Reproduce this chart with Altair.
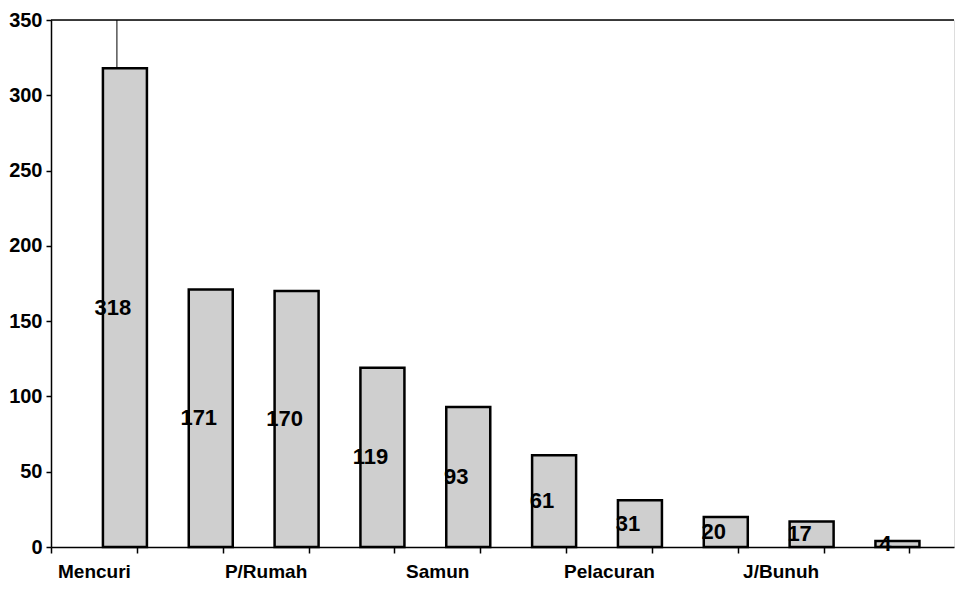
import json
import altair as alt
import pandas as pd

values = [318, 171, 170, 119, 93, 61, 31, 20, 17, 4]
idx = list(range(10))
tick_labels = ["Mencuri", "", "P/Rumah", "", "Samun", "", "Pelacuran", "", "J/Bunuh", ""]
y_ticks = [0, 50, 100, 150, 200, 250, 300, 350]

df = pd.DataFrame({"idx": idx, "value": values})

W = 903
H = 527
FONT = "Liberation Sans"

xenc = alt.X(
    "idx:O",
    scale=alt.Scale(paddingInner=0, paddingOuter=0.26, align=0),
    axis=alt.Axis(
        title=None,
        labelAngle=0,
        tickBand="extent",
        labelExpr=f"{json.dumps(tick_labels)}[datum.value]",
        labelFont=FONT,
        labelFontSize=19,
        labelFontWeight="bold",
        labelColor="black",
        labelPadding=9,
        tickSize=6,
        tickColor="black",
        tickWidth=1.5,
        domainColor="black",
        domainWidth=1.5,
        grid=False,
    ),
)
yenc = alt.Y(
    "value:Q",
    scale=alt.Scale(domain=[0, 350], nice=False),
    axis=alt.Axis(
        title=None,
        values=y_ticks,
        labelFont=FONT,
        labelFontSize=20,
        labelFontWeight="bold",
        labelColor="black",
        labelPadding=4,
        tickSize=5,
        tickColor="black",
        tickWidth=1.5,
        domainColor="black",
        domainWidth=1.5,
        grid=False,
    ),
)

base = alt.Chart(df)

bars = base.mark_bar(
    width=44, xOffset=31, fill="#cfcfcf", stroke="black", strokeWidth=2.5
).encode(x=xenc, y=yenc)

labels = base.transform_calculate(mid="datum.value / 2").mark_text(
    font=FONT, fontSize=22, fontWeight="bold", color="black",
    align="center", baseline="middle", xOffset=19,
).encode(x=alt.X("idx:O"), y=alt.Y("mid:Q"), text=alt.Text("value:Q"))

top_line = alt.Chart(pd.DataFrame({"t": [350]})).mark_rule(
    color="black", strokeWidth=1.5
).encode(y=alt.Y("t:Q"), x=alt.value(0), x2=alt.value(W))

first = pd.DataFrame({"idx": [0], "a": [318], "b": [350]})
stem = alt.Chart(first).mark_rule(color="black", strokeWidth=1, xOffset=23).encode(
    x=alt.X("idx:O"), y=alt.Y("a:Q"), y2=alt.Y2("b:Q")
)

chart = (
    alt.layer(bars, labels, top_line, stem)
    .properties(width=W, height=H, padding={"left": 0, "top": 2, "right": 0, "bottom": 0})
    .configure_view(stroke=None)
    .configure(background="white")
)

chart.save("out.html", embed_options={"renderer": "svg", "actions": False})
